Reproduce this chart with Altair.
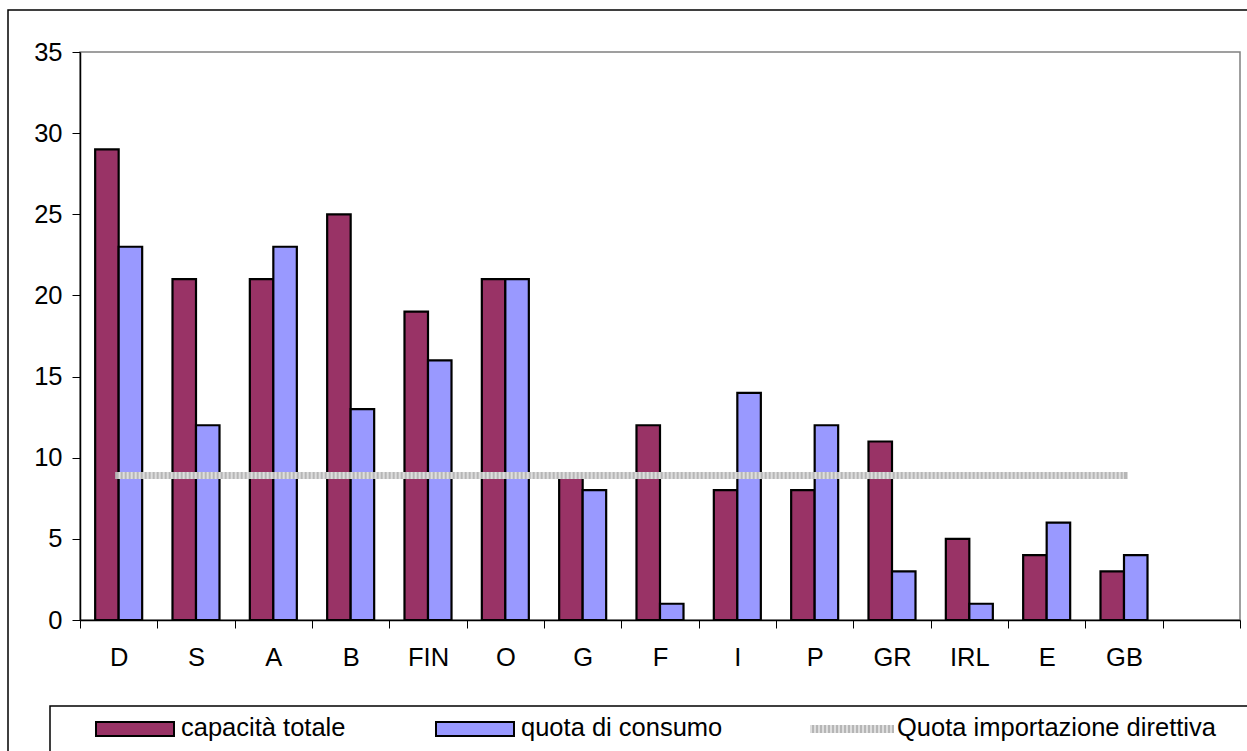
import altair as alt
import pandas as pd

# Paesi (asse x) e valori delle due serie a barre
countries = ["D", "S", "A", "B", "FIN", "O", "G", "F", "I", "P", "GR", "IRL", "E", "GB"]
capacita_totale = [29, 21, 21, 25, 19, 21, 9, 12, 8, 8, 11, 5, 4, 3]
quota_consumo = [23, 12, 23, 13, 16, 21, 8, 1, 14, 12, 3, 1, 6, 4]
# livello costante della quota prevista dalla direttiva
quota_direttiva = 8.9

series_names = ["capacità totale", "quota di consumo"]
series_colors = ["#993366", "#9999FF"]
line_name = "Quota importazione direttiva"
line_base = "#b6b6b6"
line_light = "#dedede"
y_ticks = [0, 5, 10, 15, 20, 25, 30, 35]

# l'asse lascia uno spazio vuoto dopo l'ultimo paese
slots = countries + [""]

FONT = "Liberation Sans, Arial, sans-serif"
FS = 25.5
W, H = 1160, 568

bars_df = pd.DataFrame({
    "paese": countries * 2,
    "serie": [series_names[0]] * len(countries) + [series_names[1]] * len(countries),
    "valore": capacita_totale + quota_consumo,
})
line_df = pd.DataFrame({"paese": countries, "valore": [quota_direttiva] * len(countries)})

x_scale = alt.Scale(domain=slots, paddingInner=0, paddingOuter=0)
y_scale = alt.Scale(domain=[0, 35], nice=False)

x_enc = alt.X(
    "paese:N",
    scale=x_scale,
    axis=alt.Axis(
        title=None, labelAngle=0, tickBand="extent", tickSize=8,
        labelPadding=17, labelFont=FONT, labelFontSize=FS, labelColor="black",
        domainColor="black", domainWidth=1.5, tickColor="black", tickWidth=1,
        grid=False,
    ),
)
y_enc = alt.Y(
    "valore:Q",
    scale=y_scale,
    axis=alt.Axis(
        title=None, values=y_ticks, tickSize=8, labelPadding=10,
        labelFont=FONT, labelFontSize=FS, labelColor="black",
        domainColor="black", domainWidth=1.5, tickColor="black", tickWidth=1,
        grid=False,
    ),
)

bars = alt.Chart(bars_df).mark_bar(stroke="black", strokeWidth=2.2).encode(
    x=x_enc,
    y=y_enc,
    xOffset=alt.XOffset(
        "serie:N",
        scale=alt.Scale(domain=series_names, paddingInner=0, paddingOuter=0.645),
    ),
    color=alt.Color(
        "serie:N",
        scale=alt.Scale(domain=series_names, range=series_colors),
        legend=None,
    ),
)

# linea della direttiva: tratto grigio con una trama più chiara sopra
quota_line = alt.Chart(line_df).mark_line(
    color=line_base, strokeWidth=7, strokeCap="square"
).encode(
    x=alt.X("paese:N", scale=x_scale),
    y=alt.Y("valore:Q", scale=y_scale),
)
quota_texture = alt.Chart(line_df).mark_line(
    color=line_light, strokeWidth=7, strokeCap="butt", strokeDash=[2, 2]
).encode(
    x=alt.X("paese:N", scale=x_scale),
    y=alt.Y("valore:Q", scale=y_scale),
)

# Cornici e legenda disegnate a mano sotto il grafico
one = pd.DataFrame({"k": [0]})

outer_frame = alt.Chart(one).mark_rect(
    fill=None, stroke="black", strokeWidth=1.5
).encode(
    x=alt.value(-72), x2=alt.value(1200), y=alt.value(-42), y2=alt.value(760)
)

legend_box = alt.Chart(one).mark_rect(
    fill="white", stroke="black", strokeWidth=1.5
).encode(
    x=alt.value(-30), x2=alt.value(1200), y=alt.value(654), y2=alt.value(760)
)

sw_red = alt.Chart(one).mark_rect(
    fill=series_colors[0], stroke="black", strokeWidth=2
).encode(x=alt.value(16), x2=alt.value(94), y=alt.value(670), y2=alt.value(684))

sw_blue = alt.Chart(one).mark_rect(
    fill=series_colors[1], stroke="black", strokeWidth=2
).encode(x=alt.value(356), x2=alt.value(434), y=alt.value(670), y2=alt.value(684))

sw_line = alt.Chart(one).mark_rule(color=line_base, strokeWidth=8).encode(
    x=alt.value(730), x2=alt.value(814), y=alt.value(677)
)
sw_line_tex = alt.Chart(one).mark_rule(
    color=line_light, strokeWidth=8, strokeDash=[2, 2]
).encode(x=alt.value(730), x2=alt.value(814), y=alt.value(677))


def legend_text(label, xpos):
    return alt.Chart(one).mark_text(
        text=label, align="left", baseline="alphabetic",
        font=FONT, fontSize=FS, color="black",
    ).encode(x=alt.value(xpos), y=alt.value(684))


chart = alt.layer(
    bars,
    quota_line,
    quota_texture,
    outer_frame,
    legend_box,
    sw_red,
    sw_blue,
    sw_line,
    sw_line_tex,
    legend_text(series_names[0], 101),
    legend_text(series_names[1], 441),
    legend_text(line_name, 817),
).properties(
    width=W,
    height=H,
    autosize=alt.AutoSizeParams(type="none"),
    padding={"left": 80, "top": 52, "right": 7, "bottom": 131},
    background="white",
).configure_view(
    stroke="#808080", strokeWidth=1.5
)

chart.save("out.html", embed_options={"renderer": "svg", "actions": False})
